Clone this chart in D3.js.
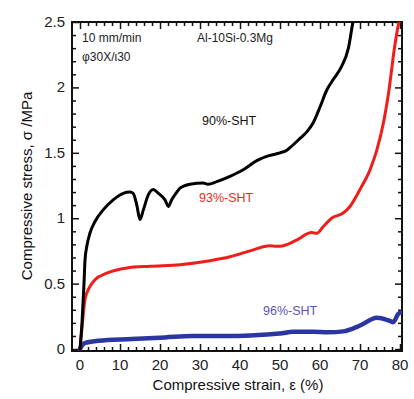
<!DOCTYPE html>
<html><head><meta charset="utf-8">
<script src="https://cdn.jsdelivr.net/npm/d3@7"></script>
<style>body{margin:0;background:#fff}svg{display:block}text{font-family:"Liberation Sans",Arial,sans-serif}</style>
</head><body><svg id="c" width="414" height="399"></svg>
<script>
const strain90 = [0,0.5,1.0,1.25,1.7,2.5,3.75,5.8,8.3,10.8,12.5,13.3,14.2,15,15.8,17.1,18.3,19.6,21.25,22.1,22.9,24.2,25,27.5,30.8,32,34.2,37.5,40.8,44.2,47.5,50,51.7,52.5,55,56.7,58.3,60,61.7,63.3,65.4,67.1,68.3,69];
const stress90 = [0,0.2,0.5,0.68,0.785,0.887,0.975,1.064,1.14,1.19,1.2,1.19,1.1,0.99,1.06,1.18,1.22,1.19,1.14,1.09,1.14,1.2,1.23,1.26,1.27,1.26,1.28,1.32,1.37,1.44,1.48,1.5,1.52,1.54,1.61,1.66,1.73,1.85,1.98,2.06,2.16,2.3,2.51,2.6];
const strain93 = [0,0.7,1.25,2.1,3.75,6.7,11.7,17.5,25,32.5,37.5,42.5,47.5,49,50,54,57.9,59.2,60.8,62.9,65.8,67.5,70,72.5,74.2,75.8,77.1,78.75,79.6,80.3];
const stress93 = [0,0.23,0.38,0.456,0.53,0.58,0.62,0.633,0.645,0.675,0.705,0.75,0.79,0.785,0.785,0.83,0.89,0.885,0.935,1.0,1.04,1.09,1.22,1.37,1.52,1.72,1.95,2.33,2.48,2.55];
const strain96 = [0,0.8,1.7,4.6,12.9,21.25,28,38.3,46.7,50,53.3,58.3,62,65.8,70,74.2,77.5,78.3,79.6,80.4];
const stress96 = [0,0.038,0.05,0.063,0.076,0.089,0.1,0.1,0.112,0.118,0.132,0.132,0.128,0.135,0.18,0.24,0.215,0.205,0.27,0.28];
const xTicks = [0,10,20,30,40,50,60,70,80];
const yTicks = [0,0.5,1,1.5,2,2.5];
const yTickLabels = ["0","0.5","1","1.5","2","2.5"];

const svg = d3.select("#c");
const L=72,R=402,T=22,B=351;
const x = d3.scaleLinear().domain([-2,80.5]).range([L,R]);
const y = d3.scaleLinear().domain([-0.015,2.5]).range([B,T]);

svg.append("defs").append("clipPath").attr("id","clip")
  .append("rect").attr("x",L).attr("y",T).attr("width",R-L).attr("height",B-T);

const xMinor = d3.range(0,81,2).filter(d=>d%10!==0);
const yMinor = d3.range(1,25).map(d=>d/10).filter(d=>Math.abs(d*2-Math.round(d*2))>1e-6);

function styleAxis(g){
  g.select(".domain").remove();
  g.selectAll(".tick line").attr("stroke","#111").attr("stroke-width",1.5);
  g.selectAll(".tick text").remove();
}
const axes = [
  [d3.axisBottom(x), B, xTicks, xMinor, "x"],
  [d3.axisTop(x), T, xTicks, xMinor, "x"],
  [d3.axisLeft(y), L, yTicks, yMinor, "y"],
  [d3.axisRight(y), R, yTicks, yMinor, "y"]
];
axes.forEach(([ax,pos,maj,min,k])=>{
  const tr = k==="x" ? `translate(0,${pos})` : `translate(${pos},0)`;
  svg.append("g").attr("transform",tr).call(ax.tickValues(maj).tickSize(-7).tickFormat("")).call(styleAxis);
  svg.append("g").attr("transform",tr).call(ax.tickValues(min).tickSize(-4).tickFormat("")).call(styleAxis);
});

svg.append("rect").attr("x",L).attr("y",T).attr("width",R-L).attr("height",B-T)
  .attr("fill","none").attr("stroke","#111").attr("stroke-width",2);

// tick labels
svg.append("g").selectAll("text").data(xTicks).join("text")
  .attr("x",d=>x(d)).attr("y",B+19).attr("text-anchor","middle")
  .attr("font-size",15).attr("fill","#222").text(d=>d);
svg.append("g").selectAll("text").data(yTicks).join("text")
  .attr("x",L-7).attr("y",d=>y(d)+5).attr("text-anchor","end")
  .attr("font-size",15).attr("fill","#222").text((d,i)=>yTickLabels[i]);

// axis titles
svg.append("text").attr("x",238).attr("y",390).attr("text-anchor","middle")
  .attr("font-size",15).attr("fill","#111").text("Compressive strain, ε (%)");
svg.append("text").attr("transform","translate(32,186) rotate(-90)").attr("text-anchor","middle")
  .attr("font-size",15).attr("fill","#111").text("Compressive stress, σ /MPa");

const line = d3.line().x(d=>x(d[0])).y(d=>y(d[1])).curve(d3.curveMonotoneX);
const plot = svg.append("g").attr("clip-path","url(#clip)");
const series = [
  {xs:strain96, ys:stress96, color:"#2c36a3", w:4.5},
  {xs:strain93, ys:stress93, color:"#f01e1a", w:3},
  {xs:strain90, ys:stress90, color:"#000", w:3}
];
series.forEach(s=>{
  plot.append("path").datum(s.xs.map((v,i)=>[v,s.ys[i]]))
    .attr("d",line).attr("fill","none").attr("stroke",s.color)
    .attr("stroke-width",s.w).attr("stroke-linejoin","round").attr("stroke-linecap","round");
});

// annotations
svg.append("text").attr("x",82).attr("y",42).attr("font-size",12).attr("fill","#222").text("10 mm/min");
svg.append("text").attr("x",82).attr("y",61).attr("font-size",12).attr("fill","#222").text("φ30X/ι30");
svg.append("text").attr("x",197).attr("y",42).attr("font-size",12).attr("fill","#222").text("Al-10Si-0.3Mg");
svg.append("text").attr("x",202).attr("y",125).attr("font-size",12.5).attr("fill","#111").text("90%-SHT");
svg.append("text").attr("x",199).attr("y",202).attr("font-size",12.5).attr("fill","#f02a20").text("93%-SHT");
svg.append("text").attr("x",263).attr("y",315).attr("font-size",12.5).attr("fill","#5b52b5").text("96%-SHT");
</script></body></html>
